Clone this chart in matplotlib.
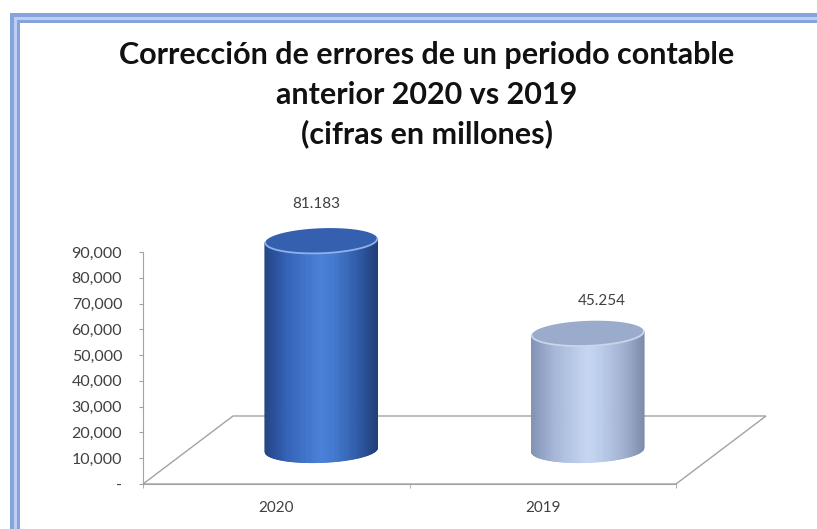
import numpy as np
import matplotlib
matplotlib.use("Agg")
import matplotlib.pyplot as plt
from matplotlib.patches import Polygon, Rectangle
from matplotlib.collections import PolyCollection
from matplotlib.colors import LinearSegmentedColormap
from matplotlib.ticker import FixedLocator, FuncFormatter

# ---- data -------------------------------------------------------------
categories = ["2020", "2019"]
values = [81183, 45254]
value_labels = ["81.183", "45.254"]
y_ticks = [0, 10000, 20000, 30000, 40000, 50000, 60000, 70000, 80000, 90000]
title_lines = [
    "Corrección de errores de un periodo contable",
    "anterior 2020 vs 2019",
    "(cifras en millones)",
]

# ---- styling ----------------------------------------------------------
plt.rcParams["font.family"] = ["Lato", "DejaVu Sans"]
W, H = 817, 529
fig = plt.figure(figsize=(W / 100, H / 100), dpi=100)
fig.patch.set_facecolor("white")


def fx(px):
    return px / W


def fy(py):
    return 1 - py / H


# plot area: value axis runs from the front floor edge up to the top tick
ax = fig.add_axes([fx(143), fy(484), fx(676) - fx(143), fy(252) - fy(484)])
ax.set_facecolor("none")
xlim = (-0.5, len(categories) - 0.5)
ylim = (0, 90000)
ax.set_xlim(*xlim)
ax.set_ylim(*ylim)

# convert pixel lengths to data units for the oblique projection
ux = (xlim[1] - xlim[0]) / (676 - 143)
uy = (ylim[1] - ylim[0]) / (484 - 252)
depth_x = 90 * ux
depth_y = 68 * uy

grid_col = "#a3a3a3"
text_col = "#404040"

# floor of the 3-D box
floor = Polygon(
    [(xlim[0], 0), (xlim[1], 0), (xlim[1] + depth_x, depth_y), (xlim[0] + depth_x, depth_y)],
    closed=True, facecolor="none", edgecolor=grid_col, lw=1.0, clip_on=False, zorder=1,
)
ax.add_patch(floor)

# cylinder styles
body_colors = [
    ["#244685", "#3463b8", "#4a80d8", "#4279cf", "#2f58a3", "#223f7a"],
    ["#8393b5", "#a5b6d8", "#c6d6f2", "#bccdec", "#9eadcc", "#7f8eab"],
]
top_colors = ["#3560b0", "#9aabcb"]
rim_colors = ["#8fb0ea", "#c9d5ea"]
label_lift = [24, 20]
label_shift = [-5, 14]

half_w = 56 * ux
half_h = 12.5 * uy
tilt = 2.0 * uy
n_strips = 140
t_front = np.linspace(np.pi, 2 * np.pi, 80)
t_all = np.linspace(0, 2 * np.pi, 160)

for i, (val, lab) in enumerate(zip(values, value_labels)):
    cx = i + depth_x / 2
    base = depth_y / 2
    top = base + val

    def ell(t, cy):
        return cx + half_w * np.cos(t), cy + half_h * np.sin(t) + tilt * np.cos(t)

    # cylinder wall: vertical strips shaded across the width
    cmap = LinearSegmentedColormap.from_list(
        f"cyl{i}", list(zip([0.0, 0.2, 0.5, 0.62, 0.85, 1.0], body_colors[i]))
    )
    t_edges = np.linspace(np.pi, 2 * np.pi, n_strips + 1)
    xs, yb = ell(t_edges, base)
    _, yt = ell(t_edges, top)
    strips, cols = [], []
    for k in range(n_strips):
        strips.append([(xs[k], yb[k]), (xs[k + 1], yb[k + 1]),
                       (xs[k + 1], yt[k + 1]), (xs[k], yt[k])])
        frac = ((xs[k] + xs[k + 1]) / 2 - (cx - half_w)) / (2 * half_w)
        cols.append(cmap(frac))
    wall = PolyCollection(strips, facecolors=cols, edgecolors=cols, linewidths=0.6,
                          clip_on=False, zorder=3)
    ax.add_collection(wall)

    # top face with a light rim on its front edge
    ex, ey = ell(t_all, top)
    ax.add_patch(Polygon(np.column_stack([ex, ey]), closed=True, facecolor=top_colors[i],
                         edgecolor="none", clip_on=False, zorder=4))
    rx, ry = ell(t_front, top)
    ax.plot(rx, ry, color=rim_colors[i], lw=1.3, clip_on=False, zorder=5)

    ax.annotate(lab, xy=(cx, top + half_h),
                xytext=(label_shift[i] * 0.72, label_lift[i] * 0.72),
                textcoords="offset points", ha="center", va="center",
                fontsize=11, color=text_col, annotation_clip=False, zorder=6)

ax.set_xlim(*xlim)
ax.set_ylim(*ylim)

# axes decoration
for side in ("top", "right"):
    ax.spines[side].set_visible(False)
ax.spines["left"].set_color(grid_col)
ax.spines["bottom"].set_color(grid_col)
ax.spines["left"].set_zorder(2)

ax.yaxis.set_major_locator(FixedLocator(y_ticks))
ax.yaxis.set_major_formatter(FuncFormatter(lambda v, p: "-" if v == 0 else f"{int(v):,}"))
ax.tick_params(axis="y", direction="out", length=3, color=grid_col, labelcolor=text_col,
               labelsize=11.5, pad=12)

ax.set_xticks(range(len(categories)))
ax.set_xticklabels(categories)
ax.set_xticks([xlim[0], 0.5, xlim[1]], minor=True)
ax.tick_params(axis="x", which="major", length=0, labelcolor=text_col, labelsize=11, pad=12)
ax.tick_params(axis="x", which="minor", direction="out", length=3, color=grid_col)

# title
for line, yc in zip(title_lines, [55, 95, 134]):
    fig.text(fx(427), fy(yc), line, ha="center", va="center", fontsize=22,
             fontweight="bold", color="#111111")

# chart frame
frame_outer = Rectangle((fx(15), fy(532)), fx(830) - fx(15), fy(18) - fy(532),
                        transform=fig.transFigure, facecolor="none",
                        edgecolor="#86a3dc", lw=10 * 0.72, zorder=0)
frame_inner = Rectangle((fx(15), fy(532)), fx(830) - fx(15), fy(18) - fy(532),
                        transform=fig.transFigure, facecolor="none",
                        edgecolor="#bccff2", lw=3 * 0.72, zorder=0)
fig.add_artist(frame_outer)
fig.add_artist(frame_inner)

fig.savefig("out.png", dpi=100)
